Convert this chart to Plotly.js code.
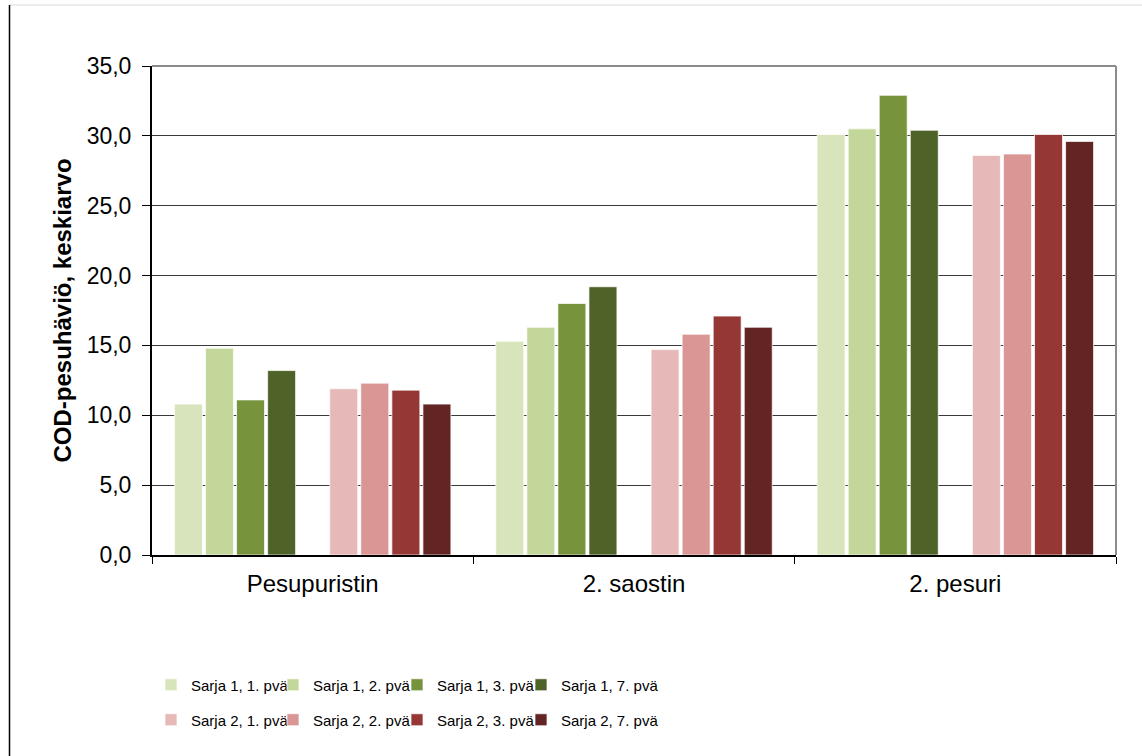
<!DOCTYPE html>
<html>
<head>
<meta charset="utf-8">
<script src="https://cdn.plot.ly/plotly-3.0.1.min.js"></script>
<style>
  html, body { margin: 0; padding: 0; background: #ffffff; }
  #chart { width: 1142px; height: 756px; }
</style>
</head>
<body>
<div id="chart"></div>
<script>
// Categories along the x axis
const categories = ["Pesupuristin", "2. saostin", "2. pesuri"];

// Series names and values (COD-pesuhäviö, keskiarvo)
const seriesNames1 = ["Sarja 1, 1. pvä", "Sarja 1, 2. pvä", "Sarja 1, 3. pvä", "Sarja 1, 7. pvä"];
const seriesNames2 = ["Sarja 2, 1. pvä", "Sarja 2, 2. pvä", "Sarja 2, 3. pvä", "Sarja 2, 7. pvä"];

const sarja1pva1 = [10.8, 15.3, 30.1];
const sarja1pva2 = [14.8, 16.3, 30.5];
const sarja1pva3 = [11.1, 18.0, 32.9];
const sarja1pva7 = [13.2, 19.2, 30.4];

const sarja2pva1 = [11.9, 14.7, 28.6];
const sarja2pva2 = [12.3, 15.8, 28.7];
const sarja2pva3 = [11.8, 17.1, 30.1];
const sarja2pva7 = [10.8, 16.3, 29.6];

const yTickValues = [0, 5, 10, 15, 20, 25, 30, 35];

const colors1 = ["#d8e4bc", "#c4d79b", "#77933c", "#4f6228"];
const colors2 = ["#e6b9b8", "#d99694", "#953735", "#632523"];

const values1 = [sarja1pva1, sarja1pva2, sarja1pva3, sarja1pva7];
const values2 = [sarja2pva1, sarja2pva2, sarja2pva3, sarja2pva7];

const FAMILY = "Liberation Sans, Arial, sans-serif";
const tickFont = { family: FAMILY, size: 23, color: "#000000" };
const catFont = { family: FAMILY, size: 24, color: "#000000" };
const legendFont = { family: FAMILY, size: 15, color: "#000000" };

// pixel helpers for paper-referenced placement
const M = { l: 152, r: 26, t: 66, b: 201 };
const W = 1142, H = 756;
const pw = W - M.l - M.r, ph = H - M.t - M.b;
const px = (x) => (x - M.l) / pw;
const py = (y) => (H - M.b - y) / ph;

// each legend entry gets its own legend box: 4 columns x 2 rows
const legendColumnsPx = [151, 273, 397, 521];
const legendRowsPx = [685, 720];

function barTrace(name, y, color, legendId) {
  return {
    type: "bar",
    name: name,
    x: categories,
    y: y,
    legend: legendId,
    marker: { color: color, line: { color: "rgba(255,255,255,0.7)", width: 1 } },
    hovertemplate: "%{x}<br>" + name + ": %{y:.1f}<extra></extra>"
  };
}

const legendId = (n) => (n === 0 ? "legend" : "legend" + (n + 1));

const traces = [];
values1.forEach((v, i) => traces.push(barTrace(seriesNames1[i], v, colors1[i], legendId(i))));
// empty slot separating the two series groups
traces.push({
  type: "bar", x: categories, y: categories.map(() => 0),
  showlegend: false, hoverinfo: "skip",
  marker: { color: "rgba(0,0,0,0)", line: { width: 0 } }
});
values2.forEach((v, i) => traces.push(barTrace(seriesNames2[i], v, colors2[i], legendId(4 + i))));

const layout = {
  width: W,
  height: H,
  margin: M,
  paper_bgcolor: "#ffffff",
  plot_bgcolor: "#ffffff",
  separators: ", ",
  barmode: "group",
  bargap: 0.13,
  bargroupgap: 0.1,
  font: { family: FAMILY, color: "#000000" },
  xaxis: {
    type: "category",
    tickfont: catFont,
    showline: true,
    linecolor: "#000000",
    linewidth: 2,
    ticks: "outside",
    tickson: "boundaries",
    ticklen: 7,
    tickcolor: "#000000",
    tickwidth: 1,
    ticklabelstandoff: 6,
    showgrid: false,
    zeroline: false
  },
  yaxis: {
    range: [0, 35],
    tickvals: yTickValues,
    tickformat: ".1f",
    tickfont: tickFont,
    showline: true,
    linecolor: "#000000",
    linewidth: 2,
    ticks: "outside",
    ticklen: 8,
    tickcolor: "#000000",
    tickwidth: 1,
    ticklabelstandoff: 6,
    showgrid: true,
    gridcolor: "#3a3a3a",
    gridwidth: 1,
    zeroline: false,
    title: {
      text: "COD-pesuhäviö, keskiarvo",
      font: { family: FAMILY, size: 24, color: "#000000", weight: "bold" },
      standoff: 8
    }
  },
  shapes: [
    // plot frame: top and right edges
    { type: "line", xref: "paper", yref: "paper", x0: 0, x1: 1, y0: 1, y1: 1, line: { color: "#8c8c8c", width: 2 } },
    { type: "line", xref: "paper", yref: "paper", x0: 1, x1: 1, y0: 0, y1: 1, line: { color: "#8c8c8c", width: 2 } },
    // outer chart border
    { type: "line", xref: "paper", yref: "paper", x0: px(9.5), x1: px(1142), y0: py(5), y1: py(5), line: { color: "#d9d9d9", width: 1 } },
    { type: "line", xref: "paper", yref: "paper", x0: px(9.5), x1: px(9.5), y0: py(5), y1: py(756), line: { color: "#000000", width: 1.5 } }
  ],
  showlegend: true
};

for (let n = 0; n < 8; n++) {
  layout[legendId(n)] = {
    orientation: "h",
    x: px(legendColumnsPx[n % 4]), xanchor: "left",
    y: py(legendRowsPx[Math.floor(n / 4)]), yanchor: "middle",
    font: legendFont,
    itemwidth: 30,
    bgcolor: "rgba(0,0,0,0)",
    borderwidth: 0
  };
}

Plotly.newPlot("chart", traces, layout, { displayModeBar: false, staticPlot: true });
</script>
</body>
</html>
